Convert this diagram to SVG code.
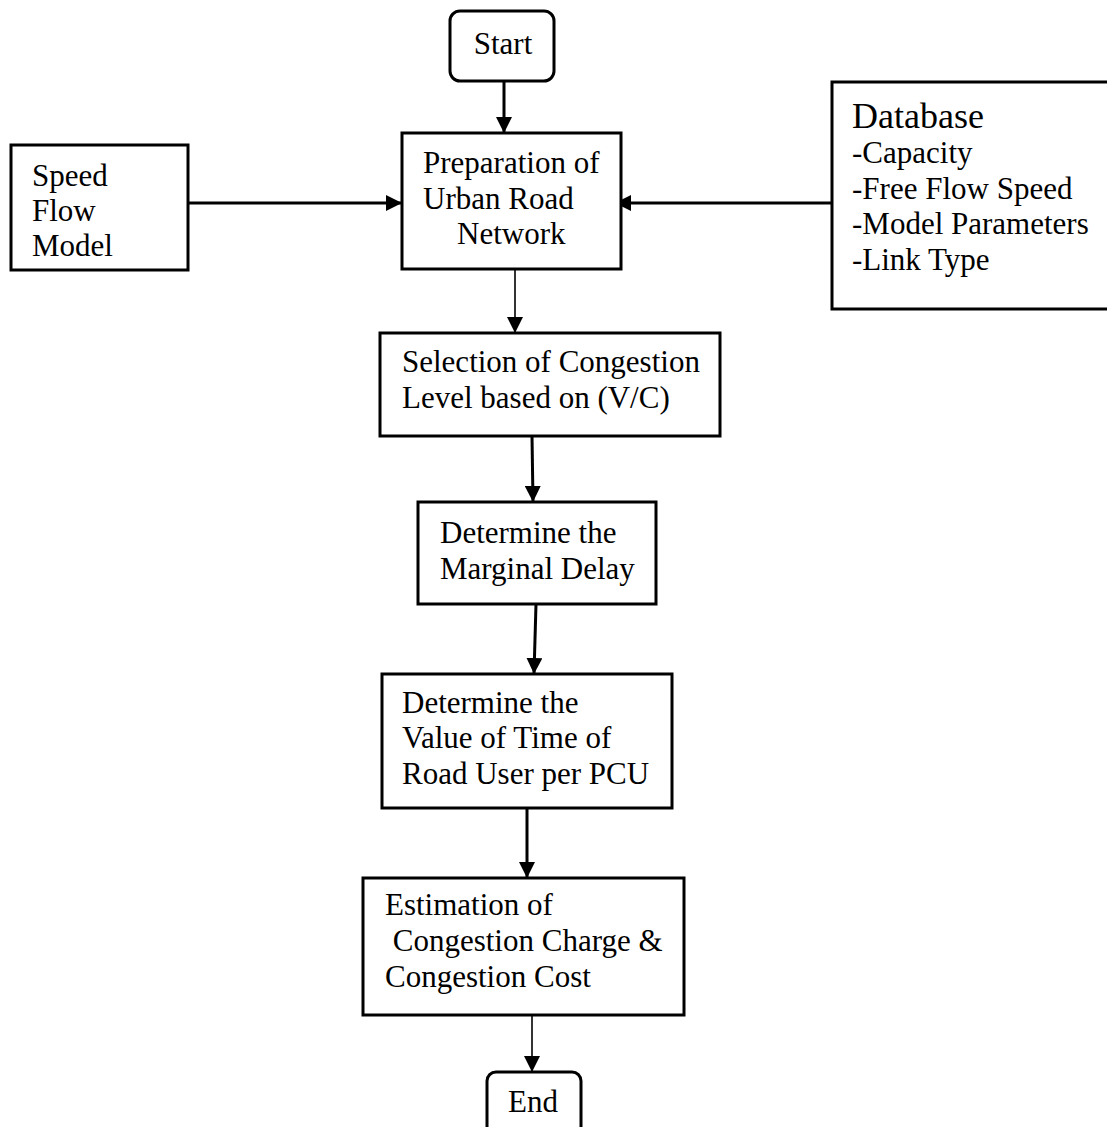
<svg xmlns="http://www.w3.org/2000/svg" width="1107" height="1127" viewBox="0 0 1107 1127">
<style>
.box{fill:#fff;stroke:#000;stroke-width:3}
.t{font-family:"Liberation Serif","Times New Roman",serif;font-size:31px;fill:#000}
.db{font-size:36px}
.c{stroke:#000;fill:none}
.thick{stroke-width:3}
.thin{stroke-width:1.6}
</style>
<defs>
<marker id="ah" markerUnits="userSpaceOnUse" markerWidth="16" markerHeight="16" viewBox="0 0 16 16" refX="16" refY="8" orient="auto">
<path d="M0,0 L16,8 L0,16 Z" fill="#000"/>
</marker>
</defs>
<rect width="1107" height="1127" fill="#fff"/>
<g id="connectors">
<line class="c thick" x1="504" y1="81" x2="504" y2="133" marker-end="url(#ah)"/>
<line class="c thick" x1="188" y1="203" x2="402" y2="203" marker-end="url(#ah)"/>
<line class="c thick" x1="832" y1="203" x2="615" y2="203" marker-end="url(#ah)"/>
<line class="c thin" x1="515" y1="269" x2="515" y2="333" marker-end="url(#ah)"/>
<line class="c thick" x1="532" y1="436" x2="533" y2="502" marker-end="url(#ah)"/>
<line class="c thick" x1="536" y1="604" x2="534" y2="674" marker-end="url(#ah)"/>
<line class="c thick" x1="527" y1="808" x2="527" y2="878" marker-end="url(#ah)"/>
<line class="c thin" x1="532" y1="1015" x2="532" y2="1072" marker-end="url(#ah)"/>
</g>
<g id="start">
<rect class="box" x="450" y="11" width="104" height="70" rx="10"/>
<text class="t" x="503" y="54" text-anchor="middle">Start</text>
</g>
<g id="prep">
<rect class="box" x="402" y="133" width="219" height="136"/>
<text class="t" x="423" y="173">Preparation of</text>
<text class="t" x="423" y="209">Urban Road</text>
<text class="t" x="457" y="244">Network</text>
</g>
<g id="speedflow">
<rect class="box" x="11" y="145" width="177" height="125"/>
<text class="t" x="32" y="186">Speed</text>
<text class="t" x="32" y="221">Flow</text>
<text class="t" x="32" y="256">Model</text>
</g>
<g id="database">
<rect class="box" x="832" y="82" width="290" height="227"/>
<text class="t db" x="852" y="128">Database</text>
<text class="t" x="852" y="163">-Capacity</text>
<text class="t" x="852" y="199">-Free Flow Speed</text>
<text class="t" x="852" y="234">-Model Parameters</text>
<text class="t" x="852" y="270">-Link Type</text>
</g>
<g id="selection">
<rect class="box" x="380" y="333" width="340" height="103"/>
<text class="t" x="402" y="372">Selection of Congestion</text>
<text class="t" x="402" y="408">Level based on (V/C)</text>
</g>
<g id="marginal">
<rect class="box" x="418" y="502" width="238" height="102"/>
<text class="t" x="440" y="543">Determine the</text>
<text class="t" x="440" y="579">Marginal Delay</text>
</g>
<g id="value">
<rect class="box" x="382" y="674" width="290" height="134"/>
<text class="t" x="402" y="713">Determine the</text>
<text class="t" x="402" y="748">Value of Time of</text>
<text class="t" x="402" y="784">Road User per PCU</text>
</g>
<g id="estimation">
<rect class="box" x="363" y="878" width="321" height="137"/>
<text class="t" x="385" y="915">Estimation of</text>
<text class="t" x="385" y="951" xml:space="preserve"> Congestion Charge &amp;</text>
<text class="t" x="385" y="987">Congestion Cost</text>
</g>
<g id="end">
<rect class="box" x="487" y="1072" width="94" height="70" rx="9"/>
<text class="t" x="533" y="1112" text-anchor="middle">End</text>
</g>
</svg>
